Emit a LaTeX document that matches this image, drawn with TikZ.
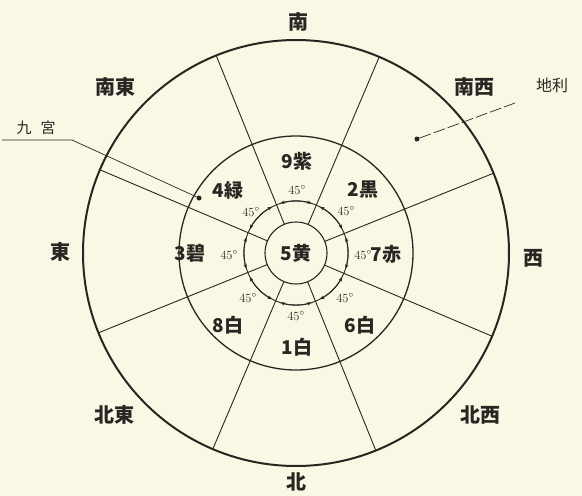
\documentclass[tikz,border=0pt]{standalone}
\usepackage{fontspec}
\newfontfamily\jp{Noto Sans CJK JP}
\usetikzlibrary{arrows.meta,calc}
\definecolor{paper}{RGB}{250,248,228}
\definecolor{ink}{RGB}{40,38,34}

\begin{document}
\begin{tikzpicture}[x=1pt,y=-1pt,
  ring/.style={draw=ink,circle,inner sep=0pt,outer sep=0pt},
  dir/.style={font=\jp\bfseries\fontsize{20}{20}\selectfont,text=ink},
  star/.style={font=\jp\bfseries\fontsize{19}{19}\selectfont,text=ink},
  deg/.style={font=\fontsize{12.5}{12.5}\selectfont,text=ink,inner sep=0pt},
  leader/.style={draw=ink,line width=0.7pt},
  pin/.style={circle,fill=ink,inner sep=0pt,minimum size=5pt}]
\fill[paper] (0,0) rectangle (582,496);
\useasboundingbox (0,0) rectangle (582,496);

\node[ring,line width=2pt,minimum size=426pt] (O) at (296,253) {};
\node[ring,line width=1.3pt,minimum size=234pt] (M) at (296,253) {};
\node[ring,line width=1.1pt,minimum size=62pt] (I) at (296,253) {};
\node[ring,line width=0.9pt,minimum size=104pt] (A) at (296,253) {};

\foreach \a in {22.5,67.5,...,337.5} {
  \draw[ink,line width=0.9pt] (I.\a) -- (O.\a);
  \draw[ink,line width=0.9pt,{Stealth[length=4.5pt,width=3.5pt]}-{Stealth[length=4.5pt,width=3.5pt]}]
    ($(A.center)+(\a+5:52)$) arc[start angle=\a+5,end angle=\a+40,radius=52];
}

\node[star] (c5) at (I) {5黄};
\node[star] (c9) at (297,161) {9紫};
\node[star] (c2) at (363,190) {2黒};
\node[star] (c4) at (228,190) {4緑};
\node[star] (c3) at (190,253) {3碧};
\node[star] (c7) at (386,254) {7赤};
\node[star] (c8) at (228,325) {8白};
\node[star] (c6) at (360,325) {6白};
\node[star] (c1) at (297,347) {1白};

\foreach \p/\n in {{(297,190)}/t,{(251,212)}/tl,{(346,211)}/tr,{(229,255)}/l,
                   {(363,255)}/r,{(248,298)}/bl,{(345,298)}/br,{(296,316)}/b} {
  \node[deg] (d\n) at \p {45$^\circ$};
}

\node[dir] (S) at (298,22) {南};
\node[dir] (N) at (296,482) {北};
\node[dir] (E) at (60,252) {東};
\node[dir] (W) at (533,258) {西};
\node[dir] (SE) at (115,87) {南東};
\node[dir] (SW) at (474,87) {南西};
\node[dir] (NE) at (114,415) {北東};
\node[dir] (NW) at (480,415) {北西};

\node[font=\jp\fontsize{16}{16}\selectfont,text=ink] (chiri) at (552,85) {地利};
\node[pin] (p1) at (417,139) {};
\coordinate (chiriEnd) at (515,103);
\draw[leader,dash pattern=on 12pt off 3pt] (p1) -- (chiriEnd);

\node[font=\jp\fontsize{15}{15}\selectfont,text=ink] (kyu) at (36,128) {九\hspace{0.6em}宮};
\node[pin] (p2) at (199,198) {};
\coordinate (kyuL) at (2,140);
\coordinate (kyuK) at (72,140);
\draw[leader] (kyuL) -- (kyuK) -- (p2);
\end{tikzpicture}
\end{document}
